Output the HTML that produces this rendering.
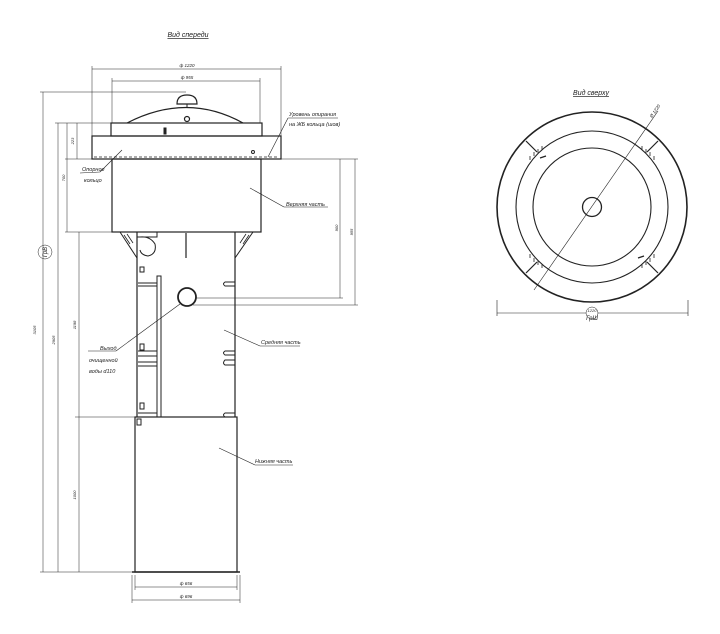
<!DOCTYPE html>
<html><head><meta charset="utf-8"><style>
html,body{margin:0;padding:0;background:#fff}
svg{display:block}
text{font-family:"Liberation Sans","DejaVu Sans",sans-serif;font-style:italic;fill:#222}
</style></head><body>
<svg width="720" height="634" viewBox="0 0 720 634" xmlns="http://www.w3.org/2000/svg">
<g stroke="#222" fill="none" stroke-width="1">
<text x="188" y="37" font-size="7" text-anchor="middle" stroke="none" text-decoration="underline">Вид спереди</text>
<line x1="92" y1="69" x2="281" y2="69" stroke-width="0.6"/>
<line x1="92" y1="66" x2="92" y2="136" stroke-width="0.5"/>
<line x1="281" y1="66" x2="281" y2="136" stroke-width="0.5"/>
<text x="187" y="67" font-size="4.5" text-anchor="middle" stroke="none">ф 1220</text>
<line x1="112" y1="81" x2="260" y2="81" stroke-width="0.6"/>
<line x1="112" y1="78" x2="112" y2="123" stroke-width="0.5"/>
<line x1="260" y1="78" x2="260" y2="123" stroke-width="0.5"/>
<text x="187" y="79" font-size="4.5" text-anchor="middle" stroke="none">ф 955</text>
<path d="M177 104 Q177 95 187 95 Q197 95 197 104 Z" stroke-width="1.2"/>
<line x1="187" y1="104" x2="187" y2="107" />
<path d="M127 123 Q187 92 243 123" stroke-width="1.2"/>
<circle cx="187" cy="119" r="2.5" stroke-width="1.2"/>
<rect x="111" y="123" width="151" height="13" stroke-width="1.2"/>
<rect x="164" y="128" width="2" height="6" fill="#222"/>
<rect x="92" y="136" width="189" height="23" stroke-width="1.2"/>
<line x1="94" y1="157" x2="279" y2="157" stroke-dasharray="3,2" stroke-width="0.8"/>
<circle cx="253" cy="152" r="1.5"/>
<rect x="112" y="159" width="149" height="73" stroke-width="1.2"/>
<!-- brackets -->
<path d="M120 232 L137 258 M253 232 L235 258" stroke-width="1"/>
<path d="M124 235 L130 244 M127 234 L133 243 M249 235 L243 244 M246 234 L240 243" stroke-width="0.8"/>
<path d="M137 232 L157 232 L157 237 L137 237"/>
<path d="M140 237 Q150 236 155 244 Q157 254 148 256 Q141 255 140 250" />
<line x1="186" y1="233" x2="186" y2="258" stroke-width="1.2"/>
<line x1="137" y1="232" x2="137" y2="417" stroke-width="1.2"/>
<line x1="235" y1="232" x2="235" y2="417" stroke-width="1.2"/>
<rect x="157" y="276" width="4" height="141" stroke-width="1"/>
<circle cx="187" cy="297" r="9" stroke-width="1.8"/>
<rect x="140" y="267" width="4" height="5"/>
<rect x="140" y="344" width="4" height="6"/>
<rect x="140" y="403" width="4" height="6"/>
<rect x="137" y="419" width="4" height="6"/>
<path d="M138 283 H157 M138 286 H157 M138 351 H157 M138 356 H157 M138 362 H157 M138 366 H157 M138 413 H157"/>
<path d="M235 282 H225 Q222 284 225 286 H235 M235 351 H225 Q222 353 225 355 H235 M235 360 H225 Q222 363 225 365 H235 M235 413 H225 Q222 415 225 417"/>
<rect x="135" y="417" width="102" height="155" stroke-width="1.2"/>
<line x1="132" y1="572" x2="240" y2="572" stroke-width="1.5"/>
<line x1="135" y1="575" x2="135" y2="590" stroke-width="0.5"/>
<line x1="237" y1="575" x2="237" y2="590" stroke-width="0.5"/>
<line x1="132" y1="575" x2="132" y2="603" stroke-width="0.5"/>
<line x1="240" y1="575" x2="240" y2="603" stroke-width="0.5"/>
<line x1="135" y1="587" x2="237" y2="587" stroke-width="0.6"/>
<line x1="132" y1="600" x2="240" y2="600" stroke-width="0.6"/>
<text x="186" y="585" font-size="4.5" text-anchor="middle" stroke="none">ф 656</text>
<text x="186" y="598" font-size="4.5" text-anchor="middle" stroke="none">ф 696</text>
<g stroke-width="0.5">
<line x1="40" y1="92" x2="186" y2="92"/>
<line x1="55" y1="123" x2="111" y2="123"/>
<line x1="65" y1="159" x2="92" y2="159"/>
<line x1="65" y1="232" x2="112" y2="232"/>
<line x1="75" y1="417" x2="135" y2="417"/>
<line x1="40" y1="572" x2="132" y2="572"/>
<line x1="43" y1="92" x2="43" y2="572"/>
<line x1="58" y1="123" x2="58" y2="572"/>
<line x1="67" y1="123" x2="67" y2="232"/>
<line x1="77" y1="123" x2="77" y2="159"/>
<line x1="79" y1="232" x2="79" y2="572"/>
</g>
<g font-size="4" stroke="none">
<text transform="translate(36,330) rotate(-90)" text-anchor="middle">3105</text>
<text transform="translate(55,340) rotate(-90)" text-anchor="middle">2905</text>
<text transform="translate(65,178) rotate(-90)" text-anchor="middle">700</text>
<text transform="translate(74,141) rotate(-90)" text-anchor="middle">223</text>
<text transform="translate(76,325) rotate(-90)" text-anchor="middle">1198</text>
<text transform="translate(76,495) rotate(-90)" text-anchor="middle">1000</text>
<text transform="translate(338,228) rotate(-90)" text-anchor="middle">900</text>
<text transform="translate(353,232) rotate(-90)" text-anchor="middle">955</text>
</g>
<circle cx="45" cy="252" r="7" stroke-width="0.5"/>
<text transform="translate(47,252) rotate(-90)" font-size="6" text-anchor="middle" stroke="none">ГрВ</text>
<g stroke-width="0.5">
<line x1="281" y1="159" x2="358" y2="159"/>
<line x1="196" y1="298" x2="343" y2="298"/>
<line x1="193" y1="305" x2="358" y2="305"/>
<line x1="340" y1="159" x2="340" y2="298"/>
<line x1="355" y1="159" x2="355" y2="305"/>
</g>
<g stroke-width="0.6">
<line x1="122" y1="150" x2="100" y2="172"/>
<line x1="80" y1="173" x2="100" y2="172"/>
<line x1="268" y1="157" x2="288" y2="118"/>
<line x1="288" y1="118" x2="338" y2="118"/>
<line x1="250" y1="188" x2="284" y2="207"/>
<line x1="284" y1="207" x2="328" y2="207"/>
<line x1="224" y1="330" x2="260" y2="346"/>
<line x1="260" y1="346" x2="300" y2="346"/>
<line x1="219" y1="448" x2="255" y2="465"/>
<line x1="255" y1="465" x2="293" y2="465"/>
<line x1="180" y1="304" x2="116" y2="351"/>
<line x1="88" y1="351" x2="116" y2="351"/>
</g>
<g font-size="5.5" stroke="none">
<text x="82" y="171">Опорное</text>
<text x="84" y="182">кольцо</text>
<text x="289" y="116">Уровень опирания</text>
<text x="289" y="126">на ЖБ кольца (шов)</text>
<text x="286" y="206">Верхняя часть</text>
<text x="261" y="344">Средняя часть</text>
<text x="255" y="463">Нижняя часть</text>
<text x="100" y="350">Выход</text>
<text x="89" y="362">очищенной</text>
<text x="89" y="373">воды d110</text>
</g>
<text x="591" y="95" font-size="7" text-anchor="middle" stroke="none" text-decoration="underline">Вид сверху</text>
<circle cx="592" cy="207" r="95" stroke-width="1.6"/>
<circle cx="592" cy="207" r="76" stroke-width="1.1"/>
<circle cx="592" cy="207" r="59" stroke-width="1.1"/>
<circle cx="592" cy="207" r="9.5" stroke-width="1.3"/>
<line x1="534" y1="290" x2="658" y2="111" stroke-width="0.6"/>
<text transform="translate(652,118) rotate(-55)" font-size="4.5" stroke="none">Ø 1220</text>
<g stroke-width="1.2">
<line x1="526" y1="141" x2="537" y2="152"/>
<line x1="658" y1="141" x2="647" y2="152"/>
<line x1="526" y1="273" x2="537" y2="262"/>
<line x1="658" y1="273" x2="647" y2="262"/>
<line x1="540" y1="158" x2="546" y2="156"/>
<line x1="638" y1="258" x2="644" y2="256"/>
</g>
<g stroke-width="0.8">
<path d="M530 160 v-4 M534 156 v-4 M538 153 v-4 M542 150 v-4"/>
<path d="M654 160 v-4 M650 156 v-4 M646 153 v-4 M642 150 v-4"/>
<path d="M530 254 v4 M534 258 v4 M538 261 v4 M542 264 v4"/>
<path d="M654 254 v4 M650 258 v4 M646 261 v4 M642 264 v4"/>
</g>
<g stroke-width="0.6">
<line x1="497" y1="300" x2="497" y2="316"/>
<line x1="688" y1="300" x2="688" y2="316"/>
<line x1="497" y1="313" x2="688" y2="313"/>
</g>
<circle cx="592" cy="313" r="6" stroke-width="0.5" fill="#fff"/>
<text x="592" y="312" font-size="4" text-anchor="middle" stroke="none">1220</text>
<text x="592" y="320" font-size="6" text-anchor="middle" stroke="none">ГрШ</text>
</g>
</svg>
</body></html>
